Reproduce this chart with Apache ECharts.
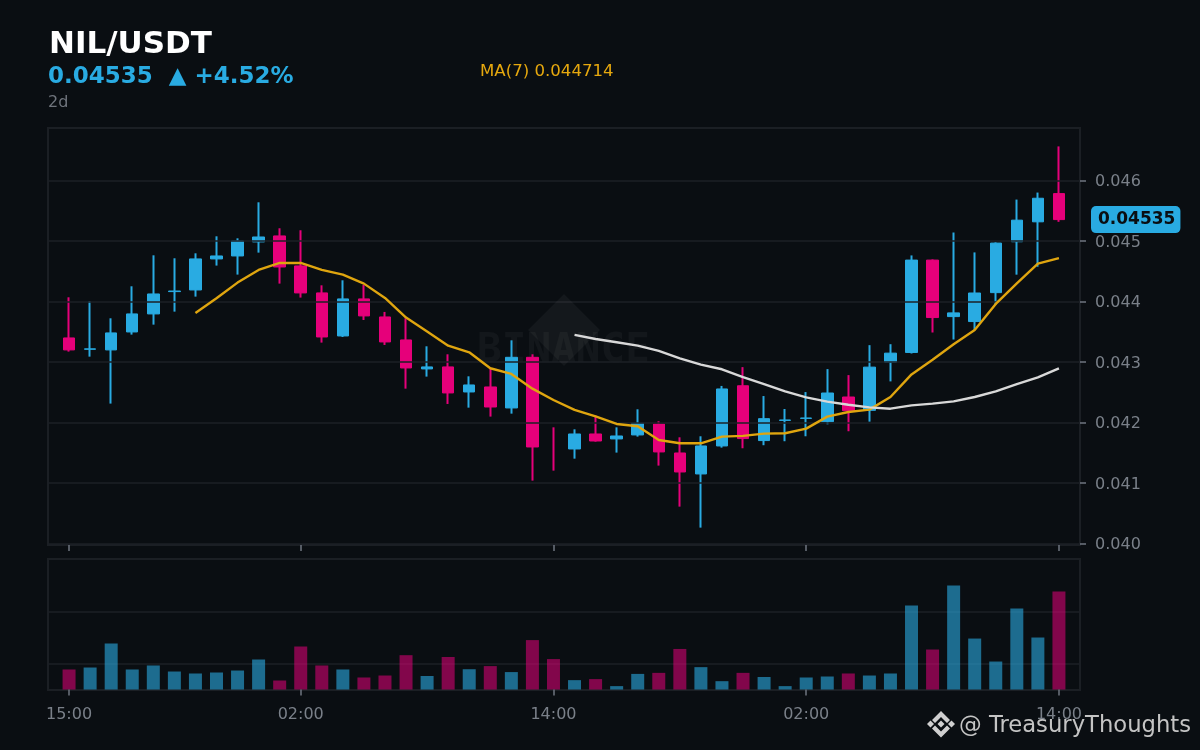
<!DOCTYPE html>
<html><head><meta charset="utf-8">
<style>html,body{margin:0;padding:0;background:#0a0e12}#c{width:1200px;height:750px}</style>
<script src="https://cdn.jsdelivr.net/npm/echarts@6/dist/echarts.min.js"></script>
</head><body><div id="c"></div>
<script>
const categories=['15:00','16:00','17:00','18:00','19:00','20:00','21:00','22:00','23:00','00:00','01:00','02:00','03:00','04:00','05:00','06:00','07:00','08:00','09:00','10:00','11:00','12:00','13:00','14:00','15:00','16:00','17:00','18:00','19:00','20:00','21:00','22:00','23:00','00:00','01:00','02:00','03:00','04:00','05:00','06:00','07:00','08:00','09:00','10:00','11:00','12:00','13:00','14:00'];
const tickedHours=[0,11,23,35,47];
const opens=[.043394,.043207,.043196,.043493,.043791,.044160,.044187,.044700,.044749,.044981,.045080,.044584,.044138,.043427,.044039,.043741,.043361,.042882,.042915,.042501,.042584,.042237,.043074,null,.041559,.041807,.041725,.041791,.041972,.041493,.041146,.041609,.042604,.041698,.042032,.042065,.042011,.042418,.042198,.042995,.043154,.044681,.043747,.043665,.044143,.044984,.045313,.045780];
const closes=[.043196,.043214,.043477,.043791,.044121,.044170,.044700,.044749,.044997,.045063,.044567,.044138,.043410,.044039,.043758,.043328,.042898,.042915,.042485,.042617,.042253,.043074,.041592,null,.041807,.041691,.041774,.041983,.041510,.041179,.041609,.042551,.041731,.042060,.042038,.042071,.042484,.042192,.042912,.043143,.044681,.043731,.043808,.044137,.044962,.045341,.045703,.04535];
const lows=[.043168,.043085,.042309,.043449,.043614,.043829,.044077,.044590,.044441,.044804,.044292,.044061,.043317,.043410,.043691,.043278,.042556,.042755,.042303,.042242,.042094,.042143,.041036,.041201,.041399,.041680,.041499,.041763,.041284,.040606,.040259,.041581,.041571,.041621,.041687,.041769,.041967,.041852,.042011,.042676,.043137,.043484,.043368,.043527,.043940,.044440,.044571,.045313];
const highs=[.044066,.044000,.043719,.044248,.044760,.044711,.044793,.045074,.045041,.045636,.045207,.045174,.044264,.044347,.044270,.043824,.043719,.043256,.043124,.042760,.042893,.043355,.043124,.041917,.041884,.042110,.041917,.042215,.042017,.041752,.041769,.042601,.042912,.042434,.042220,.042500,.042879,.042780,.043275,.043291,.044758,.044692,.045137,.044808,.044973,.045681,.045797,.046560];
const ma7=[null,null,null,null,null,null,.043807,.044050,.044309,.044518,.044634,.044634,.044518,.044441,.044292,.044055,.043730,.043499,.043267,.043157,.042893,.042799,.042556,.042369,.042204,.042099,.041972,.041934,.041708,.041653,.041653,.041763,.041775,.041813,.041819,.041896,.042093,.042170,.042209,.042418,.042791,.043033,.043291,.043527,.043956,.044297,.044621,.044714];
const ma25=[null,null,null,null,null,null,null,null,null,null,null,null,null,null,null,null,null,null,null,null,null,null,null,null,.043444,.043377,.043322,.043267,.043179,.043058,.042953,.042876,.042747,.042632,.042511,.042412,.042341,.042291,.042247,.042225,.042280,.042308,.042346,.042418,.042511,.042632,.042742,.042890];
const volumes=[.385,.423,.885,.385,.462,.346,.308,.327,.365,.577,.173,.827,.462,.385,.231,.269,.66,.26,.625,.39,.45,.335,.95,.585,.18,.2,.065,.3,.32,.78,.43,.16,.32,.24,.065,.231,.25,.308,.269,.308,1.615,.769,2.0,.98,.538,1.558,1.0,1.885];
const isUp=[0,1,1,1,1,1,1,1,1,1,0,0,0,1,0,0,0,1,0,1,0,1,0,0,1,0,1,1,0,0,1,1,0,1,1,1,1,0,1,1,1,0,1,1,1,1,1,0];
const priceTicks=[.040,.041,.042,.043,.044,.045,.046];
const volTicks=[.5,1.5];
const lastPrice=.04535;

const BG='#0a0e12',BLUE='#29abe2',PINK='#e6007a',GRID='#1c2026',BORDER='#1b1f24',TICK='#6f7680',LABEL='#7a8089';
const FONT='"DejaVu Sans"';
const pad=a=>['-',...a,'-'];
const cats=['',...categories,''];
const EMPTY=['-','-','-','-'];
const bodyData=[EMPTY,...categories.map((_,i)=>opens[i]==null?EMPTY:[opens[i],closes[i],Math.min(opens[i],closes[i]),Math.max(opens[i],closes[i])]),EMPTY];
const wickData=[EMPTY,...categories.map((_,i)=>isUp[i]?[lows[i],highs[i],lows[i],highs[i]]:[highs[i],lows[i],lows[i],highs[i]]),EMPTY];
const volData=['-',...volumes.map((v,i)=>({value:v,itemStyle:{color:isUp[i]?'rgba(41,171,226,0.6)':'rgba(230,0,122,0.55)'}})),'-'];
const isTicked=idx=>tickedHours.includes(idx-1);
const txt=(x,y,text,font,fill,z)=>({type:'text',z:z||5,x,y,style:{text,font,fill,textVerticalAlign:'middle',textAlign:'left'}});
const poly=(points,fill,z)=>({type:'polygon',z:z||5,shape:{points},style:{fill}});
const LOGO='#cfcfcf';
const xAxisBase=(gi)=>({type:'category',gridIndex:gi,data:cats,boundaryGap:false,
  axisLine:{show:false},splitLine:{show:false},
  axisTick:{show:true,length:6,interval:(i)=>isTicked(i),lineStyle:{color:TICK,width:1.5}},
  axisLabel:{show:true,interval:(i)=>isTicked(i),margin:17,color:LABEL,fontFamily:FONT,fontSize:16,hideOverlap:false,showMinLabel:true,showMaxLabel:true}});

const chart=echarts.init(document.getElementById('c'),null,{renderer:'canvas',width:1200,height:750});
chart.setOption({
 backgroundColor:BG,animation:false,
 grid:[{left:48,top:128,width:1032,height:417,show:true,backgroundColor:'transparent',borderColor:BORDER,borderWidth:2},
       {left:48,top:559,width:1032,height:130.5,show:false}],
 xAxis:[Object.assign(xAxisBase(0),{z:0}),Object.assign(xAxisBase(1),{z:4})],
 yAxis:[{type:'value',gridIndex:0,position:'right',min:.039972,max:.046864,z:2,scale:true,
   axisLine:{show:false},
   axisTick:{show:true,length:6,customValues:priceTicks,lineStyle:{color:TICK,width:1.5}},
   axisLabel:{show:true,margin:15,customValues:priceTicks,formatter:v=>'{a|'+v.toFixed(3)+'}',
     rich:{a:{color:LABEL,fontFamily:FONT,fontSize:16,padding:[4,0,0,0]}}},
   splitLine:{show:true,lineStyle:{color:GRID,width:1.5}}},
  {type:'value',gridIndex:1,position:'right',min:0,max:2.51,z:2,
   axisLine:{show:false},
   axisTick:{show:false,customValues:volTicks},axisLabel:{show:false,customValues:volTicks},
   splitLine:{show:true,lineStyle:{color:GRID,width:1.5}}}],
 series:[
  {type:'candlestick',name:'wick',xAxisIndex:0,yAxisIndex:0,z:1,barWidth:0,data:wickData,
   itemStyle:{color:BLUE,color0:PINK,borderColor:BLUE,borderColor0:PINK,borderWidth:2}},
  {type:'candlestick',name:'price',xAxisIndex:0,yAxisIndex:0,z:1,barWidth:12,data:bodyData,
   itemStyle:{color:BLUE,color0:PINK,borderColor:BLUE,borderColor0:PINK,borderWidth:1}},
  {type:'line',name:'MA(7)',xAxisIndex:0,yAxisIndex:0,z:3,data:pad(ma7),symbol:'none',connectNulls:false,lineStyle:{color:'#dfa50f',width:2.4},
   markLine:{silent:true,symbol:'none',z:6,animation:false,precision:5,lineStyle:{color:'rgba(0,0,0,0)',width:1},
    data:[{yAxis:lastPrice}],
    label:{show:true,position:'end',distance:11,formatter:()=>lastPrice.toFixed(5),color:'#0a0e12',fontFamily:FONT,fontWeight:'bold',fontSize:17,
      backgroundColor:BLUE,borderRadius:5,padding:[5,5,5,7]}}},
  {type:'line',name:'MA(25)',xAxisIndex:0,yAxisIndex:0,z:3,data:pad(ma25),symbol:'none',connectNulls:false,lineStyle:{color:'#d8d8d8',width:2.4}},
  {type:'bar',name:'Volume',xAxisIndex:1,yAxisIndex:1,z:3,barWidth:13,data:volData}
 ],
 graphic:{elements:[
  {type:'rect',z:1,shape:{x:48,y:559,width:1032,height:131},style:{fill:BG,stroke:BORDER,lineWidth:2}},
  poly([[564,294],[600,330],[564,366],[528,330]],'rgba(255,255,255,0.045)',0),
  {type:'text',z:0,x:563.5,y:351,style:{text:'BINANCE',font:'bold 41px "DejaVu Sans Mono"',fill:'rgba(255,255,255,0.04)',textAlign:'center',textVerticalAlign:'middle'}},
  txt(49,45,'NIL/USDT','bold 31px '+FONT,'#ffffff'),
  txt(48,77,'0.04535  ▲ +4.52%','bold 23px '+FONT,BLUE),
  txt(48,103,'2d','16px '+FONT,'#6f747c'),
  txt(480,72,'MA(7) 0.044714','16.6px '+FONT,'#e6a80e'),
  txt(959,726,'@ TreasuryThoughts','22.7px '+FONT,'#c4c4c4',7),
  poly([[941,720.5],[944.5,724],[941,727.5],[937.5,724]],LOGO,7),
  poly([[930.5,720.5],[934,724],[930.5,727.5],[927,724]],LOGO,7),
  poly([[951.5,720.5],[955,724],[951.5,727.5],[948,724]],LOGO,7),
  poly([[941,711],[950,720],[947,723],[941,717],[935,723],[932,720]],LOGO,7),
  poly([[941,737.5],[950,728.5],[947,725.5],[941,731.5],[935,725.5],[932,728.5]],LOGO,7)
 ]}
});
</script></body></html>
